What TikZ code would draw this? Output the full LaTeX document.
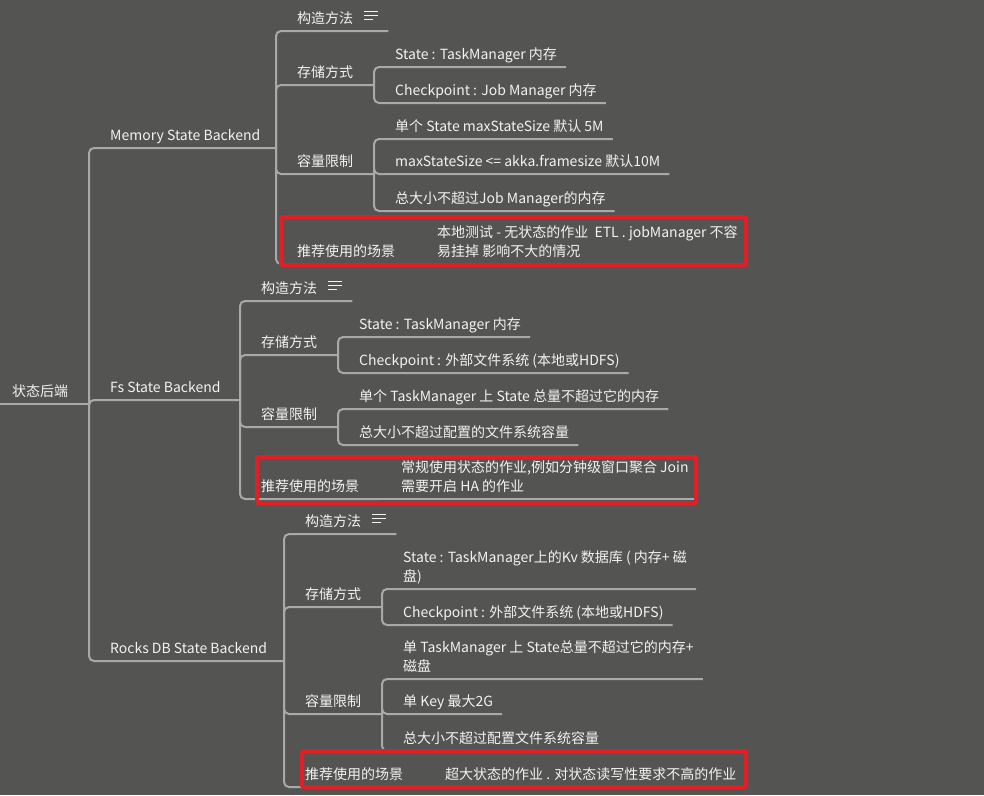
\documentclass[tikz,border=0pt]{standalone}
\usepackage{fontspec}
\setmainfont{Noto Sans CJK SC}
\usepackage{tikz}
\usetikzlibrary{positioning, calc}
\usepackage{xcolor}
\definecolor{bgcol}{HTML}{545553}
\definecolor{linkcol}{HTML}{A9A9A9}
\definecolor{textcol}{HTML}{F2F2F2}
\definecolor{markred}{HTML}{E31E26}

\begin{document}
\begin{tikzpicture}[
    x=1pt, y=-1pt,
    font=\fontsize{14}{19}\selectfont,
    topic/.style={anchor=south west, inner xsep=0pt, inner ysep=7.5pt, text depth=0pt, text=textcol, align=left},
    link/.style={draw=linkcol, line width=2pt, rounded corners=5pt},
    redmark/.style={draw=markred, line width=4pt, rounded corners=2pt},
    noteicon/.pic={
        \draw[textcol, line width=1.4pt] (-15,-19.5) -- (-1,-19.5) (-15,-15.5) -- (-1,-15.5) (-15,-11.5) -- (-6,-11.5);
    },
]
    \path[fill=bgcol, use as bounding box] (0,0) rectangle (984,795);

    % root
    \node[topic] (root) at (12,404) {状态后端};
    \coordinate (rootin) at (0,404);
    \coordinate (j0) at (89,404);
    \draw[link] (rootin) -- (j0);

    % backends
    \node[topic] (mem) at (110,148) {Memory State Backend};
    \node[topic] (fs) at (110,400) {Fs State Backend};
    \node[topic] (rocks) at (110,661) {Rocks DB State Backend};
    \coordinate (jm) at (276,148);
    \coordinate (jf) at (240,400);
    \coordinate (jr) at (284,661);
    \draw[link] (j0) |- (jm);
    \draw[link] (j0) |- (jf);
    \draw[link] (j0) |- (jr);

    % memory state backend
    \node[topic] (m1) at (297,31) {构造方法\hspace{26pt}};
    \node[topic] (m2) at (297,85) {存储方式};
    \node[topic] (m3) at (297,174) {容量限制};
    \node[topic] (m4) at (297,264) {推荐使用的场景};
    \coordinate (jm2) at (374,85);
    \coordinate (jm3) at (374,174);
    \coordinate (jm4) at (416,264);
    \draw[link] (jm) |- ([xshift=9pt]m1.south east);
    \draw[link] (jm) |- (jm2);
    \draw[link] (jm) |- (jm3);
    \draw[link] (jm) |- (jm4);
    \pic at (m1.south east) {noteicon};

    \node[topic] (m21) at (395,67) {State : TaskManager 内存};
    \node[topic] (m22) at (395,103) {Checkpoint : Job Manager 内存};
    \draw[link] (jm2) |- ([xshift=9pt]m21.south east);
    \draw[link] (jm2) |- ([xshift=9pt]m22.south east);

    \node[topic] (m31) at (395,139) {单个 State maxStateSize 默认 5M};
    \node[topic] (m32) at (395,174) {maxStateSize <= akka.framesize 默认10M};
    \node[topic] (m33) at (395,211) {总大小不超过Job Manager的内存};
    \draw[link] (jm3) |- ([xshift=9pt]m31.south east);
    \draw[link] (jm3) |- ([xshift=9pt]m32.south east);
    \draw[link] (jm3) |- ([xshift=9pt]m33.south east);

    \node[topic] (m41) at (437,264) {本地测试 - 无状态的作业\ \ ETL . jobManager 不容\\易挂掉 影响不大的情况};
    \draw[link] (jm4) -- ([xshift=9pt]m41.south east);

    % fs state backend
    \node[topic] (f1) at (261,301) {构造方法\hspace{26pt}};
    \node[topic] (f2) at (261,355) {存储方式};
    \node[topic] (f3) at (261,427) {容量限制};
    \node[topic] (f4) at (261,499) {推荐使用的场景};
    \coordinate (jf2) at (338,355);
    \coordinate (jf3) at (338,427);
    \coordinate (jf4) at (380,499);
    \draw[link] (jf) |- ([xshift=9pt]f1.south east);
    \draw[link] (jf) |- (jf2);
    \draw[link] (jf) |- (jf3);
    \draw[link] (jf) |- (jf4);
    \pic at (f1.south east) {noteicon};

    \node[topic] (f21) at (359,337) {State : TaskManager 内存};
    \node[topic] (f22) at (359,373) {Checkpoint : 外部文件系统 (本地或HDFS)};
    \draw[link] (jf2) |- ([xshift=9pt]f21.south east);
    \draw[link] (jf2) |- ([xshift=9pt]f22.south east);

    \node[topic] (f31) at (359,409) {单个 TaskManager 上 State 总量不超过它的内存};
    \node[topic] (f32) at (359,445) {总大小不超过配置的文件系统容量};
    \draw[link] (jf3) |- ([xshift=9pt]f31.south east);
    \draw[link] (jf3) |- ([xshift=9pt]f32.south east);

    \node[topic] (f41) at (401,499) {常规使用状态的作业,例如分钟级窗口聚合 Join\\需要开启 HA 的作业};
    \draw[link] (jf4) -- ([xshift=9pt]f41.south east);

    % rocks db state backend
    \node[topic] (r1) at (305,534) {构造方法\hspace{26pt}};
    \node[topic] (r2) at (305,607) {存储方式};
    \node[topic] (r3) at (305,714) {容量限制};
    \node[topic] (r4) at (305,787) {推荐使用的场景};
    \coordinate (jr2) at (382,607);
    \coordinate (jr3) at (382,714);
    \coordinate (jr4) at (424,787);
    \draw[link] (jr) |- ([xshift=9pt]r1.south east);
    \draw[link] (jr) |- (jr2);
    \draw[link] (jr) |- (jr3);
    \draw[link] (jr) |- (jr4);
    \pic at (r1.south east) {noteicon};

    \node[topic] (r21) at (403,589) {State : TaskManager上的Kv 数据库 ( 内存+ 磁\\盘)};
    \node[topic] (r22) at (403,625) {Checkpoint : 外部文件系统 (本地或HDFS)};
    \draw[link] (jr2) |- ([xshift=9pt]r21.south east);
    \draw[link] (jr2) |- ([xshift=9pt]r22.south east);

    \node[topic] (r31) at (403,679) {单 TaskManager 上 State总量不超过它的内存+\\磁盘};
    \node[topic] (r32) at (403,714) {单 Key 最大2G};
    \node[topic] (r33) at (403,751) {总大小不超过配置文件系统容量};
    \draw[link] (jr3) |- ([xshift=9pt]r31.south east);
    \draw[link] (jr3) |- ([xshift=9pt]r32.south east);
    \draw[link] (jr3) |- ([xshift=9pt]r33.south east);

    \node[topic] (r41) at (445,787) {超大状态的作业 . 对状态读写性要求不高的作业};
    \draw[link] (jr4) -- ([xshift=9pt]r41.south east);

    % highlights
    \draw[redmark] (281,217) rectangle (746,265);
    \draw[redmark] (257,457) rectangle (696,503);
    \draw[redmark] (302,751) rectangle (746,787);
\end{tikzpicture}
\end{document}
